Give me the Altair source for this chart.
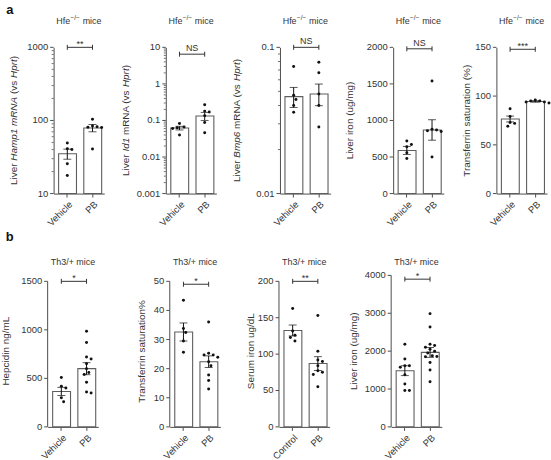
import math
import altair as alt
import pandas as pd

FONT = "Liberation Sans"
INK = "#111111"
GREY = "#4d4d4d"
LABEL = "#333333"
EDGE = "#5e5e5e"

VEHICLE_PB = ["Vehicle", "PB"]
CONTROL_PB = ["Control", "PB"]

# ---------------- a: Hfe-/- mice ----------------
hamp1_mean = [35, 79]
hamp1_sem = [5.5, 9.0]
hamp1_vehicle = [49, 41, 40, 25.5, 17.7]
hamp1_pb = [104, 84, 82, 81, 80, 40.7]
hamp1_ticks = [10, 100, 1000]

id1_mean = [0.062, 0.133]
id1_sem = [0.007, 0.033]
id1_vehicle = [0.082, 0.066, 0.063, 0.060, 0.040]
id1_pb = [0.27, 0.18, 0.17, 0.135, 0.088, 0.046]
id1_ticks = [0.001, 0.01, 0.1, 1, 10]

bmp6_mean = [0.046, 0.048]
bmp6_sem = [0.0072, 0.0081]
bmp6_vehicle = [0.074, 0.047, 0.044, 0.040, 0.036]
bmp6_pb = [0.079, 0.067, 0.048, 0.040, 0.0285]
bmp6_ticks = [0.01, 0.1]

liver_a_mean = [590, 870]
liver_a_sem = [55, 140]
liver_a_vehicle = [720, 670, 640, 560, 480]
liver_a_pb = [1540, 880, 870, 860, 850, 500]
liver_a_ticks = [0, 500, 1000, 1500, 2000]

tsat_a_mean = [76.5, 94.5]
tsat_a_sem = [3.0, 0.8]
tsat_a_vehicle = [87, 79, 73, 72, 69]
tsat_a_pb = [96, 95, 95, 94, 94, 93]
tsat_a_ticks = [0, 50, 100, 150]

# ---------------- b: Th3/+ mice ----------------
hepcidin_mean = [365, 600]
hepcidin_sem = [42, 62]
hepcidin_vehicle = [510, 420, 400, 300, 260]
hepcidin_pb = [985, 870, 720, 700, 650, 600, 560, 540, 460, 360, 350]
hepcidin_ticks = [0, 500, 1000, 1500]

tsat_b_mean = [32.6, 22.4]
tsat_b_sem = [3.1, 2.0]
tsat_b_vehicle = [43.5, 33.8, 32.4, 29.5, 25.6]
tsat_b_pb = [36, 25.3, 24.7, 24.7, 23.9, 22.4, 21, 17.8, 15.9, 13]
tsat_b_ticks = [0, 10, 20, 30, 40, 50]

serum_mean = [132.5, 87]
serum_sem = [7.5, 9.5]
serum_control = [162.7, 131.8, 126, 122.7, 118]
serum_pb = [153, 104, 92, 90, 84, 77, 75, 72, 55]
serum_ticks = [0, 50, 100, 150, 200]

liver_b_mean = [1484, 1966]
liver_b_sem = [130, 130]
liver_b_vehicle = [2183, 1790, 1615, 1615, 1572, 1379, 1135, 960, 960]
liver_b_pb = [2990, 2640, 2180, 2150, 2100, 2050, 2000, 1950, 1880,
              1860, 1850, 1700, 1500, 1190]
liver_b_ticks = [0, 1000, 2000, 3000, 4000]

# ---------------- layout constants ----------------
W = 51
HA, HB = 147.3, 152.6
ROW_B_TOP = 229.7            # distance between the tops of the two rows
P_IN, P_OUT, ALIGN = 0.31, 0.16, 0.62
STEP = W / (2 - P_IN + 2 * P_OUT)
BW = STEP * (1 - P_IN)
TICK = 3.5

# Arial / Liberation Sans advance widths (1/1000 em)
ADV = {" ": 278, "(": 333, ")": 333, "/": 278, "%": 889, "+": 584, "\u2212": 584,
       "A": 667, "B": 667, "H": 722, "I": 278, "L": 556, "M": 833, "N": 722,
       "R": 722, "S": 667, "T": 611,
       "a": 556, "b": 556, "c": 500, "d": 556, "e": 556, "f": 278, "g": 556,
       "h": 556, "i": 222, "l": 222, "m": 833, "n": 556, "o": 556, "p": 556,
       "r": 333, "s": 500, "t": 278, "u": 556, "v": 500}


def text_w(s, size):
    return sum(ADV.get(c, 556) for c in s) * size / 1000.0


def one_row():
    return pd.DataFrame({"k": [0]})


def swarm(vals, to_px, diam=3.4):
    order = sorted(range(len(vals)), key=lambda i: to_px(vals[i]))
    cands = [0.0]
    for j in range(1, 8):
        cands += [j * 2.3, -j * 2.3]
    placed, offs = [], [0.0] * len(vals)
    lim = (diam + 1.0) ** 2
    for i in order:
        y = to_px(vals[i])
        for c in cands:
            if all((c - px) ** 2 + (y - py) ** 2 >= lim for px, py in placed):
                offs[i] = c
                placed.append((c, y))
                break
    return offs


def label(text, x, y, size=9, style="normal", weight="normal", angle=0,
          align="left", baseline="middle", color=LABEL):
    return alt.Chart(one_row()).mark_text(
        text=text, font=FONT, fontSize=size, fontStyle=style, fontWeight=weight,
        angle=angle, align=align, baseline=baseline, color=color
    ).encode(x=alt.value(x), y=alt.value(y))


def run(segments, size, place):
    """Lay out text pieces one after another; spaces only advance the pen."""
    out, acc = [], 0.0
    for t, style in segments:
        lead = len(t) - len(t.lstrip(" "))
        body = t.strip(" ")
        if body:
            out.append(place(body, acc + text_w(" " * lead, size), style))
        acc += text_w(t, size)
    return out, acc


def y_title(segments, x, H, size=10):
    total = sum(text_w(t, size) for t, _ in segments)
    y0 = H / 2 + total / 2
    out, _ = run(segments, size, lambda body, off, it: label(
        body, x, y0 - off, size=size, style="italic" if it else "normal", angle=270))
    return out


def tick_text(v):
    return repr(v) if isinstance(v, float) else str(v)


def panel(p, H):
    groups = p["groups"]
    lo_d, hi_d = p["domain"]
    log = p["log"]

    def to_px(v):
        if log:
            a, b = math.log10(lo_d), math.log10(hi_d)
            return H * (1 - (math.log10(v) - a) / (b - a))
        return H * (1 - (v - lo_d) / (hi_d - lo_d))

    summary = pd.DataFrame({
        "g": groups, "mean": p["mean"],
        "lo": [m - s for m, s in zip(p["mean"], p["sem"])],
        "hi": [m + s for m, s in zip(p["mean"], p["sem"])],
    })
    recs = []
    for g, vals in zip(groups, p["points"]):
        for v, d in zip(vals, swarm(vals, to_px)):
            recs.append({"g": g, "v": v, "dx": d})
    pts = pd.DataFrame(recs)

    xs = alt.Scale(domain=groups, paddingInner=P_IN, paddingOuter=P_OUT, align=ALIGN)
    # only the bar layer carries axis settings; the other layers share them
    x_axis = alt.X("g:N", scale=xs, sort=groups,
                   axis=alt.Axis(title=None, labelAngle=315, labelPadding=2))
    x_plain = alt.X("g:N", scale=xs, sort=groups)

    ys = alt.Scale(type="log" if log else "linear", domain=[lo_d, hi_d],
                   nice=False, zero=False)

    def yq(field):
        return alt.Y(field, scale=ys)

    ticks = p["ticks"]
    # the y axis supplies only its line; ticks and tick labels are layers below
    y_ax = alt.Axis(title=None, labels=False, ticks=False,
                    domain=p.get("axis_line", True))

    layers = [
        alt.Chart(summary).mark_bar(fill="white", stroke=EDGE, strokeWidth=1.1).encode(
            x=x_axis, y=alt.Y("mean:Q", scale=ys, axis=y_ax), y2=alt.datum(lo_d)),
        alt.Chart(summary).mark_rule(color=INK, strokeWidth=1).encode(
            x=x_plain, y=yq("lo:Q"), y2="hi:Q"),
        alt.Chart(summary).mark_tick(color=INK, thickness=1, size=8).encode(
            x=x_plain, y=yq("lo:Q")),
        alt.Chart(summary).mark_tick(color=INK, thickness=1, size=8).encode(
            x=x_plain, y=yq("hi:Q")),
        alt.Chart(pts).mark_circle(size=9, color=INK, opacity=1).encode(
            x=x_plain,
            xOffset=alt.XOffset("dx:Q", scale=alt.Scale(domain=[-BW / 2, BW / 2],
                                                        range=[0, BW])),
            y=yq("v:Q")),
    ]

    # y ticks and their labels
    tk = pd.DataFrame({"t": ticks, "lab": [tick_text(t) for t in ticks]})
    layers += [
        alt.Chart(tk).mark_rule(color=GREY, strokeWidth=1).encode(
            x=alt.value(-TICK), x2=alt.value(0), y=yq("t:Q")),
        alt.Chart(tk).mark_text(font=FONT, fontSize=9.5, color=LABEL, align="right",
                                baseline="middle").encode(
            x=alt.value(-TICK - 2), y=yq("t:Q"), text="lab:N"),
    ]

    # minor ticks of the log axes (2..9 within each decade)
    if log:
        minor = [round(m * t, 10) for t in ticks[:-1] for m in range(2, 10)]
        layers.append(
            alt.Chart(pd.DataFrame({"m": minor})).mark_rule(color=GREY, strokeWidth=0.8)
            .encode(x=alt.value(-2), x2=alt.value(0), y=yq("m:Q")))

    # y axis line only up to the top tick (plot is taller than the axis)
    if not p.get("axis_line", True):
        layers.append(
            alt.Chart(pd.DataFrame({"a": [lo_d], "b": [ticks[-1]]}))
            .mark_rule(color=GREY, strokeWidth=1)
            .encode(x=alt.value(0), y=yq("a:Q"), y2="b:Q"))

    # significance bracket
    br = pd.DataFrame({"g": groups, "y": [p["bracket"]] * 2})
    layers += [
        alt.Chart(br).mark_line(color=LABEL, strokeWidth=1).encode(
            x=x_plain, y=yq("y:Q")),
        alt.Chart(br).mark_point(shape="M0,-1L0,1", size=25, filled=False,
                                 color=LABEL, strokeWidth=1, opacity=1).encode(
            x=x_plain, y=yq("y:Q")),
        alt.Chart(br.head(1).assign(t=p["sig"])).mark_text(
            font=FONT, fontSize=9, color=LABEL, baseline="alphabetic",
            dx=STEP / 2, dy=-3 if p["sig"] == "NS" else -0.5).encode(
            x=x_plain, y=yq("y:Q"), text="t:N"),
    ]

    layers += y_title(p["ytitle"], p["ytitle_x"], H)
    layers += p["extra"]
    return alt.layer(*layers).properties(width=W, height=H)


def hfe_title():
    size, sup = 9, 6.5
    parts = [("Hfe", size, 0), ("\u2212/\u2212", sup, -3.5), (" mice", size, 0)]
    total = sum(text_w(t, s) for t, s, _ in parts) + 0.6
    x = W / 2 - total / 2
    out = []
    for t, s, rise in parts:
        lead = len(t) - len(t.lstrip(" "))
        out.append(label(t.strip(" "), x + text_w(" " * lead, s), -26.5 + rise, size=s))
        x += text_w(t, s) + 0.3
    return out


def th3_title():
    return [label("Th3/+ mice", W / 2, -13.2, size=9, align="center")]


def spacer(w, h):
    return alt.Chart(one_row()).mark_point(opacity=0).encode(
        x=alt.value(0), y=alt.value(0)).properties(width=w, height=h)


row_a_specs = [
    dict(groups=VEHICLE_PB, mean=hamp1_mean, sem=hamp1_sem,
         points=[hamp1_vehicle, hamp1_pb], log=True, domain=[10, 1000],
         ticks=hamp1_ticks, bracket=1000, sig="**",
         ytitle=[("Liver ", False), ("Hamp1 mRNA", True), (" (vs ", False),
                 ("Hprt", True), (")", False)], ytitle_x=-40,
         extra=hfe_title() + [label("a", -47.7, -38, size=13, weight="bold", color=INK)]),
    dict(groups=VEHICLE_PB, mean=id1_mean, sem=id1_sem,
         points=[id1_vehicle, id1_pb], log=True, domain=[0.001, 10],
         ticks=id1_ticks, bracket=6.5, sig="NS",
         ytitle=[("Liver ", False), ("Id1", True), (" mRNA (vs ", False),
                 ("Hprt", True), (")", False)], ytitle_x=-40,
         extra=hfe_title()),
    dict(groups=VEHICLE_PB, mean=bmp6_mean, sem=bmp6_sem,
         points=[bmp6_vehicle, bmp6_pb], log=True, domain=[0.01, 0.1],
         ticks=bmp6_ticks, bracket=0.1, sig="NS",
         ytitle=[("Liver ", False), ("Bmp6", True), (" mRNA (vs ", False),
                 ("Hprt", True), (")", False)], ytitle_x=-43.5,
         extra=hfe_title()),
    dict(groups=VEHICLE_PB, mean=liver_a_mean, sem=liver_a_sem,
         points=[liver_a_vehicle, liver_a_pb], log=False, domain=[0, 2000],
         ticks=liver_a_ticks, bracket=1980, sig="NS",
         ytitle=[("Liver iron (ug/mg)", False)], ytitle_x=-43,
         extra=hfe_title()),
    dict(groups=VEHICLE_PB, mean=tsat_a_mean, sem=tsat_a_sem,
         points=[tsat_a_vehicle, tsat_a_pb], log=False, domain=[0, 150],
         ticks=tsat_a_ticks, bracket=148, sig="***",
         ytitle=[("Transferrin saturation (%)", False)], ytitle_x=-30,
         extra=hfe_title()),
]

SCALE_B = HB / 146.6
row_b_specs = [
    dict(groups=VEHICLE_PB, mean=hepcidin_mean, sem=hepcidin_sem,
         points=[hepcidin_vehicle, hepcidin_pb], log=False,
         domain=[0, 1500 * SCALE_B], ticks=hepcidin_ticks, bracket=1500, sig="*",
         axis_line=False, ytitle=[("Hepcidin ng/mL", False)], ytitle_x=-41.5,
         extra=th3_title() + [label("b", -42.3, -38.7, size=13, weight="bold", color=INK)]),
    dict(groups=VEHICLE_PB, mean=tsat_b_mean, sem=tsat_b_sem,
         points=[tsat_b_vehicle, tsat_b_pb], log=False,
         domain=[0, 50 * SCALE_B], ticks=tsat_b_ticks, bracket=49, sig="*",
         axis_line=False, ytitle=[("Transferrin saturation%", False)], ytitle_x=-28,
         extra=th3_title()),
    dict(groups=CONTROL_PB, mean=serum_mean, sem=serum_sem,
         points=[serum_control, serum_pb], log=False,
         domain=[0, 200 * SCALE_B], ticks=serum_ticks, bracket=200, sig="**",
         axis_line=False, ytitle=[("Serum iron ug/dL", False)], ytitle_x=-28,
         extra=th3_title()),
    dict(groups=VEHICLE_PB, mean=liver_b_mean, sem=liver_b_sem,
         points=[liver_b_vehicle, liver_b_pb], log=False,
         domain=[0, 4000], ticks=liver_b_ticks, bracket=3900, sig="*",
         axis_line=False, ytitle=[("Liver iron (ug/mg)", False)], ytitle_x=-37,
         extra=th3_title()),
]

pa = [panel(s, HA) for s in row_a_specs]
pb = [panel(s, HB) for s in row_b_specs]

# each row is a flush-bounded strip; spacer cells set the gaps between panels
row_a = alt.hconcat(spacer(5.4, HA), pa[0], spacer(61.3, HA), pa[1], spacer(63.3, HA),
                    pa[2], spacer(63, HA), pa[3], spacer(53, HA), pa[4],
                    spacing=0, bounds="flush")
row_b = alt.hconcat(pb[0], spacer(71.7, HB), pb[1], spacer(58.3, HB), pb[2],
                    spacer(61.4, HB), pb[3], spacing=0, bounds="flush")

chart = (
    alt.vconcat(row_a, row_b, spacing=ROW_B_TOP, bounds="flush")
    .properties(padding={"left": 1, "top": 2, "right": 0, "bottom": 0},
                background="white")
    .configure_view(strokeWidth=0)
    .configure_axis(
        grid=False, domainColor=GREY, tickColor=GREY, domainWidth=1, tickWidth=1,
        tickSize=TICK, labelColor=LABEL, labelFont=FONT, labelFontSize=9.5,
        labelPadding=2, titleFont=FONT,
    )
)

chart.save("out.html", embed_options={"renderer": "svg", "actions": False})
